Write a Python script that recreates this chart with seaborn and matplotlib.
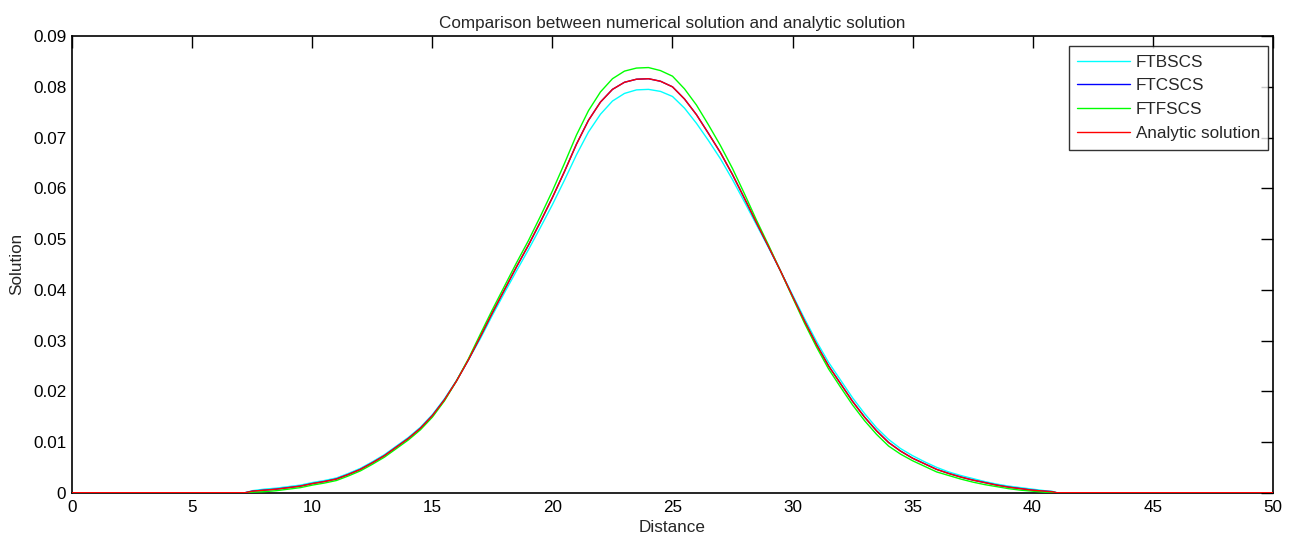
import matplotlib
matplotlib.use("Agg")
import matplotlib.pyplot as plt
import seaborn as sns
import pandas as pd

# ---- data ----
distance = [0, 7.2, 7.5, 8, 8.5, 9, 9.5, 10, 10.5, 11, 11.5, 12, 12.5, 13, 13.5, 14, 14.5,
            15, 15.5, 16, 16.5, 17, 17.5, 18, 18.5, 19, 19.5, 20, 20.5, 21, 21.5, 22, 22.5,
            23, 23.5, 24, 24.5, 25, 25.5, 26, 26.5, 27, 27.5, 28, 28.5, 29, 29.5, 30, 30.5,
            31, 31.5, 32, 32.5, 33, 33.5, 34, 34.5, 35, 35.5, 36, 36.5, 37, 37.5, 38, 38.5,
            39, 39.5, 40, 40.5, 40.8, 41, 50]

ftbscs = [0, 0, 0.0004, 0.0007, 0.0009, 0.0012, 0.0015, 0.0020, 0.0024, 0.0029, 0.0038,
          0.0048, 0.0061, 0.0075, 0.0092, 0.0109, 0.0129, 0.0154, 0.0185, 0.0221, 0.0262,
          0.0304, 0.0350, 0.0394, 0.0437, 0.0479, 0.0523, 0.0568, 0.0616, 0.0666, 0.0711,
          0.0746, 0.0772, 0.0787, 0.0794, 0.0795, 0.0791, 0.0781, 0.0758, 0.0728, 0.0694,
          0.0658, 0.0617, 0.0573, 0.0528, 0.0483, 0.0437, 0.0390, 0.0343, 0.0298, 0.0257,
          0.0222, 0.0187, 0.0156, 0.0128, 0.0105, 0.0087, 0.0073, 0.0061, 0.0050, 0.0041,
          0.0034, 0.0028, 0.0022, 0.0017, 0.0013, 0.0010, 0.0007, 0.0004, 0.0003, 0, 0]

ftcscs = [0, 0, 0.0003, 0.0005, 0.0007, 0.0010, 0.0013, 0.0018, 0.0022, 0.0027, 0.0036,
          0.0046, 0.0059, 0.0073, 0.0090, 0.0107, 0.0127, 0.0152, 0.0183, 0.0220, 0.0262,
          0.0308, 0.0355, 0.0400, 0.0445, 0.0488, 0.0534, 0.0582, 0.0633, 0.0687, 0.0734,
          0.0770, 0.0795, 0.0809, 0.0815, 0.0816, 0.0811, 0.0800, 0.0776, 0.0745, 0.0708,
          0.0670, 0.0627, 0.0580, 0.0532, 0.0485, 0.0437, 0.0387, 0.0338, 0.0292, 0.0250,
          0.0215, 0.0180, 0.0149, 0.0122, 0.0099, 0.0082, 0.0068, 0.0057, 0.0046, 0.0038,
          0.0031, 0.0025, 0.0020, 0.0015, 0.0011, 0.0008, 0.0005, 0.0003, 0.0002, 0, 0]

ftfscs = [0, 0, 0.0001, 0.0002, 0.0004, 0.0007, 0.0010, 0.0015, 0.0019, 0.0024, 0.0033,
          0.0043, 0.0056, 0.0070, 0.0087, 0.0104, 0.0124, 0.0149, 0.0181, 0.0220, 0.0264,
          0.0313, 0.0361, 0.0407, 0.0453, 0.0497, 0.0545, 0.0595, 0.0649, 0.0705, 0.0753,
          0.0790, 0.0816, 0.0831, 0.0837, 0.0838, 0.0832, 0.0821, 0.0796, 0.0764, 0.0725,
          0.0684, 0.0639, 0.0589, 0.0537, 0.0488, 0.0437, 0.0385, 0.0334, 0.0287, 0.0244,
          0.0208, 0.0173, 0.0142, 0.0115, 0.0092, 0.0076, 0.0063, 0.0052, 0.0041, 0.0034,
          0.0027, 0.0021, 0.0016, 0.0012, 0.0008, 0.0005, 0.0003, 0.0001, 0.0001, 0, 0]

analytic = [0, 0, 0.0003, 0.0005, 0.0007, 0.0010, 0.0013, 0.0018, 0.0022, 0.0027, 0.0036,
            0.0046, 0.0059, 0.0073, 0.0090, 0.0107, 0.0127, 0.0152, 0.0183, 0.0220, 0.0262,
            0.0308, 0.0355, 0.0400, 0.0445, 0.0488, 0.0534, 0.0582, 0.0633, 0.0687, 0.0734,
            0.0770, 0.0795, 0.0809, 0.0815, 0.0816, 0.0811, 0.0800, 0.0776, 0.0745, 0.0708,
            0.0670, 0.0627, 0.0580, 0.0532, 0.0485, 0.0437, 0.0387, 0.0338, 0.0292, 0.0250,
            0.0215, 0.0180, 0.0149, 0.0122, 0.0099, 0.0082, 0.0068, 0.0057, 0.0046, 0.0038,
            0.0031, 0.0025, 0.0020, 0.0015, 0.0011, 0.0008, 0.0005, 0.0003, 0.0002, 0, 0]

series_names = ["FTBSCS", "FTCSCS", "FTFSCS", "Analytic solution"]
series_colors = ["#00ffff", "#0000ff", "#00ff00", "#ff0000"]

x_ticks = [0, 5, 10, 15, 20, 25, 30, 35, 40, 45, 50]
y_ticks = [0, 0.01, 0.02, 0.03, 0.04, 0.05, 0.06, 0.07, 0.08, 0.09]
y_tick_labels = ["0", "0.01", "0.02", "0.03", "0.04", "0.05", "0.06", "0.07", "0.08", "0.09"]

frames = []
for name, vals in zip(series_names, [ftbscs, ftcscs, ftfscs, analytic]):
    frames.append(pd.DataFrame({"Distance": distance, "Solution": vals, "Method": name}))
df = pd.concat(frames, ignore_index=True)

sns.set_style("white")
plt.rcParams["font.family"] = ["Liberation Sans", "DejaVu Sans"]
FS = 12.3

fig = plt.figure(figsize=(12.96, 5.38), dpi=100)
ax = fig.add_axes([0.0558, 0.0842, 0.9262, 0.8487])

sns.lineplot(data=df, x="Distance", y="Solution", hue="Method",
             hue_order=series_names, palette=series_colors, linewidth=1.0,
             estimator=None, sort=False, ax=ax, zorder=3)

ax.set_xlim(0, 50)
ax.set_ylim(0, 0.09)
ax.set_xticks(x_ticks)
ax.set_xticklabels([str(t) for t in x_ticks])
ax.set_yticks(y_ticks)
ax.set_yticklabels(y_tick_labels)

for s in ax.spines.values():
    s.set_visible(True)
    s.set_color("black")
    s.set_linewidth(1.2)

ax.tick_params(direction="in", top=True, right=True, length=8.6, width=1.0,
               color="black", labelsize=FS, labelcolor="black")
ax.tick_params(axis="x", pad=5.5)
ax.tick_params(axis="y", pad=4.3)

ax.set_title("Comparison between numerical solution and analytic solution",
             fontsize=FS, pad=5.5)
ax.set_xlabel("Distance", fontsize=FS, labelpad=3)
ax.set_ylabel("Solution", fontsize=FS, labelpad=6)

leg = ax.legend(loc="upper right", bbox_to_anchor=(1268.3 / 1296, 1 - 46 / 538),
                bbox_transform=fig.transFigure, borderaxespad=0, frameon=True,
                fancybox=False, edgecolor="black", fontsize=FS,
                handlelength=3.1, handletextpad=0.3, labelspacing=0.52,
                borderpad=0.5)
leg.get_frame().set_linewidth(1.0)
for h in leg.get_lines():
    h.set_linewidth(1.0)

fig.savefig("out.png", dpi=100)
